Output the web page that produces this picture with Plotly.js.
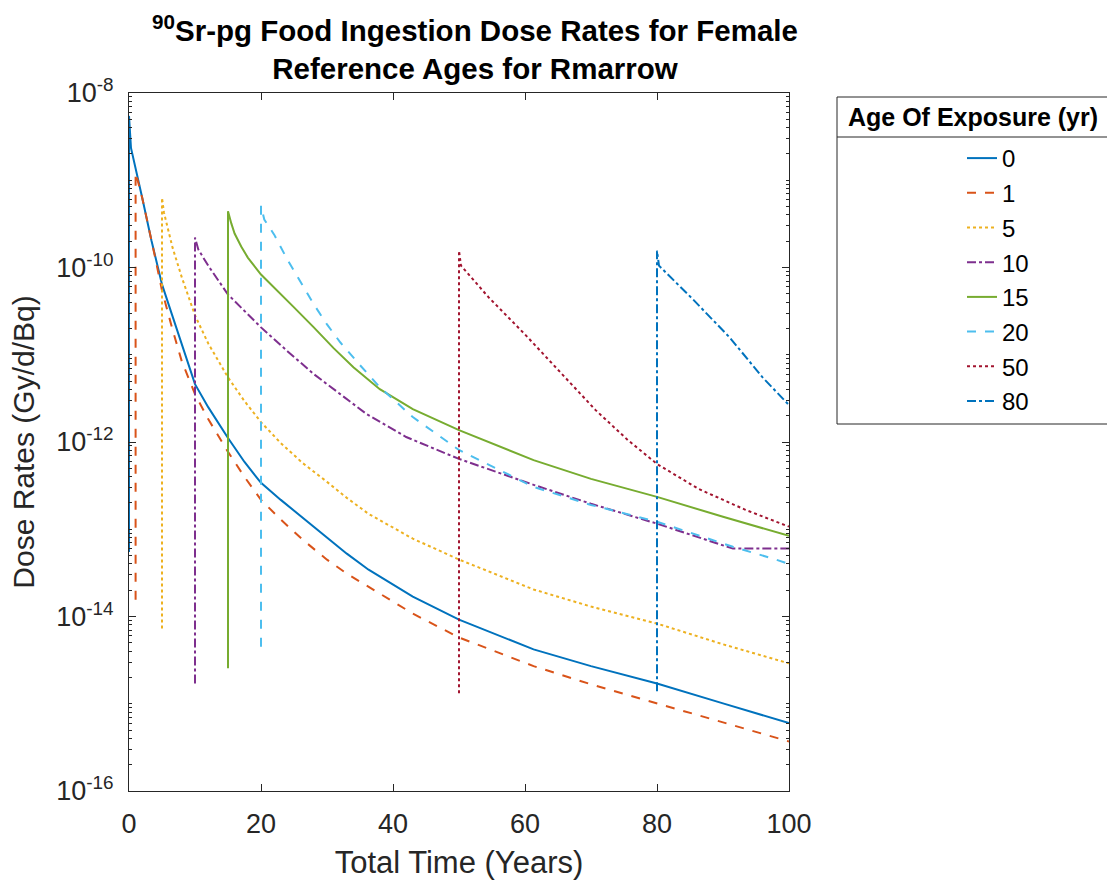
<!DOCTYPE html>
<html><head><meta charset="utf-8">
<script src="https://cdn.plot.ly/plotly-3.0.1.min.js"></script>
<style>html,body{margin:0;padding:0;background:#fff}</style>
</head><body><div id="chart" style="width:1107px;height:886px"></div>
<script>
// Age of exposure labels
const ages = ['0', '1', '5', '10', '15', '20', '50', '80'];

// Total time (years) and dose rate (Gy/d/Bq) for each age of exposure
const t_age0 = [0, 0, 0.3, 1, 2, 3.4, 5, 6.5, 8, 10, 12, 15, 17.5, 20, 23, 26.3, 30, 33, 36.3, 43, 50, 61.3, 70, 80, 90, 100];
const d_age0 = [5.5e-14, 5.46e-9, 2.35e-9, 1.39e-9, 6.3e-10, 2.04e-10, 6.4e-11, 2.9e-11, 1.35e-11, 4.6e-12, 2.51e-12, 1.11e-12, 5.9e-13, 3.4e-13, 2.17e-13, 1.35e-13, 8.0e-14, 5.25e-14, 3.44e-14, 1.69e-14, 9.2e-15, 4.2e-15, 2.7e-15, 1.71e-15, 1.01e-15, 6.0e-16];

const t_age1 = [1, 1, 1.3, 2, 3.9, 5, 6.5, 8, 10, 12, 15, 17.5, 20, 23, 26.3, 30, 33, 36.3, 43, 50, 61.3, 70, 80, 90, 100];
const d_age1 = [1.56e-14, 1.22e-9, 1.01e-9, 6.3e-10, 1.37e-10, 5.46e-11, 2.06e-11, 8.4e-12, 3.54e-12, 1.83e-12, 7.7e-13, 3.98e-13, 2.17e-13, 1.29e-13, 7.6e-14, 4.48e-14, 3.1e-14, 2.2e-14, 1.08e-14, 5.75e-15, 2.7e-15, 1.67e-15, 1.01e-15, 6.0e-16, 3.7e-16];

const t_age5 = [5, 5, 5.3, 6.6, 8, 10, 12, 15, 17.5, 20, 23, 26.3, 30, 33, 36.3, 43, 50, 61.3, 70, 80, 90, 100];
const d_age5 = [7.3e-15, 6.3e-10, 4.25e-10, 1.69e-10, 7.7e-11, 2.83e-11, 1.35e-11, 5.5e-12, 2.94e-12, 1.69e-12, 9.7e-13, 5.75e-13, 3.49e-13, 2.29e-13, 1.5e-13, 7.8e-14, 4.5e-14, 2.04e-14, 1.3e-14, 8.3e-15, 4.8e-15, 2.9e-15];

const t_age10 = [10, 10, 10.5, 12, 15, 17.5, 20, 24, 28, 32, 36, 42, 50, 61.3, 70, 80, 91.5, 100];
const d_age10 = [1.71e-15, 2.2e-10, 1.61e-10, 1.05e-10, 4.9e-11, 3.14e-11, 2.06e-11, 1.1e-11, 6.0e-12, 3.54e-12, 2.09e-12, 1.14e-12, 6.4e-13, 3.23e-13, 1.96e-13, 1.16e-13, 6.0e-14, 6.0e-14];

const t_age15 = [15, 15, 15.5, 16, 17, 18, 20, 22, 25, 28, 31, 34, 38, 43, 50, 61.3, 70, 80, 90, 100];
const d_age15 = [2.55e-15, 4.4e-10, 3.2e-10, 2.45e-10, 1.74e-10, 1.3e-10, 8.3e-11, 5.9e-11, 3.49e-11, 2.06e-11, 1.19e-11, 7.2e-12, 4.03e-12, 2.38e-12, 1.37e-12, 6.2e-13, 3.78e-13, 2.35e-13, 1.39e-13, 8.4e-14];

const t_age20 = [20, 20, 20.5, 22, 24, 26, 28, 30, 32, 35, 38, 43, 50, 61.3, 70, 80, 91.5, 97.6, 100];
const d_age20 = [4.5e-15, 5.1e-10, 3.54e-10, 2.38e-10, 1.23e-10, 6.74e-11, 3.78e-11, 2.23e-11, 1.39e-11, 7.6e-12, 4.25e-12, 1.93e-12, 8.1e-13, 3.06e-13, 1.9e-13, 1.22e-13, 6.3e-14, 4.6e-14, 4.0e-14];

const t_age50 = [50, 50, 50.3, 54.5, 60, 65.6, 70.7, 75.6, 80, 86.3, 93.4, 100];
const d_age50 = [1.32e-15, 1.56e-10, 1.05e-10, 4.54e-11, 1.71e-11, 6.0e-12, 2.32e-12, 1.05e-12, 5.6e-13, 2.9e-13, 1.67e-13, 1.07e-13];

const t_age80 = [80, 80, 80.3, 85.6, 91, 96, 100];
const d_age80 = [1.39e-15, 1.56e-10, 1.05e-10, 4.2e-11, 1.58e-11, 5.5e-12, 2.65e-12];

// Axis tick labels
const xTicks = [0, 20, 40, 60, 80, 100];
const yTickExps = [-16, -14, -12, -10, -8];

const times = [t_age0, t_age1, t_age5, t_age10, t_age15, t_age20, t_age50, t_age80];
const doses = [d_age0, d_age1, d_age5, d_age10, d_age15, d_age20, d_age50, d_age80];
const colors = ['#0072BD', '#D95319', '#EDB120', '#7E2F8E', '#77AC30', '#4DBEEE', '#A2142F', '#0072BD'];
const dashes = ['solid', 'dash', 'dot', 'dashdot', 'solid', 'dash', 'dot', 'dashdot'];

const traces = ages.map((a, i) => ({
  x: times[i], y: doses[i], type: 'scatter', mode: 'lines', name: a,
  legendgroup: 'g' + i,
  line: {color: colors[i], width: 2, dash: dashes[i]}
}));

const minorY = [];
for (let e = -16; e < -8; e++) for (let k = 1; k <= 9; k++) minorY.push(k * Math.pow(10, e));

const axisColor = '#262626';
const font = 'Liberation Sans, Arial, Helvetica, sans-serif';
const L = 129, R = 789, T = 93, B = 791;
const px2x = p => (p - L) / (R - L);
const py2y = p => (B - p) / (B - T);

const layout = {
  width: 1107, height: 886,
  paper_bgcolor: '#fff', plot_bgcolor: '#fff',
  margin: {l: L, r: 1107 - R, t: T, b: 886 - B},
  font: {family: font, color: axisColor, size: 26},
  title: {
    text: '<b><sup>90</sup>Sr-pg Food Ingestion Dose Rates for Female<br>Reference Ages for Rmarrow</b>',
    font: {family: font, size: 29.5, color: '#000'},
    x: 475 / 1107, xref: 'container', xanchor: 'center',
    y: 1 - 41 / 886, yref: 'container', yanchor: 'middle'
  },
  xaxis: {
    range: [0, 100], tickmode: 'array', tickvals: xTicks, ticktext: xTicks.map(String),
    ticks: 'inside', ticklen: 7, tickcolor: axisColor, showline: true, linecolor: axisColor,
    linewidth: 1, mirror: 'ticks', showgrid: false, zeroline: false,
    tickfont: {size: 27, color: axisColor}, ticklabelstandoff: 9,
    title: {text: 'Total Time (Years)', font: {size: 31, color: axisColor}, standoff: 12}
  },
  yaxis: {
    type: 'log', range: [-16, -8], tickmode: 'array',
    tickvals: yTickExps.map(e => Math.pow(10, e)),
    ticktext: yTickExps.map(e => '10<sup>' + e + '</sup>'),
    ticks: 'inside', ticklen: 7, tickcolor: axisColor, showline: true, linecolor: axisColor,
    linewidth: 1, mirror: 'ticks', showgrid: false, zeroline: false,
    tickfont: {size: 27, color: axisColor}, ticklabelstandoff: 9,
    minor: {tickmode: 'array', tickvals: minorY, ticks: 'inside', ticklen: 3, tickcolor: axisColor, showgrid: false},
    title: {text: 'Dose Rates (Gy/d/Bq)', font: {size: 30, color: axisColor}, standoff: 12}
  },
  showlegend: true,
  legend: {
    xref: 'container', yref: 'container',
    x: 837 / 1107, y: 1 - 136 / 886, xanchor: 'left', yanchor: 'top',
    bgcolor: 'rgba(0,0,0,0)', borderwidth: 0,
    font: {size: 24, color: '#000'},
    traceorder: 'grouped', tracegroupgap: 0.5, indentation: 125
  },
  annotations: [
    {text: '<b>Age Of Exposure (yr)</b>', xref: 'paper', yref: 'paper',
     x: px2x(973), y: py2y(117), xanchor: 'center', yanchor: 'middle', showarrow: false,
     font: {size: 25, color: '#000'}}
  ],
  shapes: [
    {type: 'rect', xref: 'paper', yref: 'paper', x0: px2x(837), x1: px2x(1112),
     y0: py2y(424), y1: py2y(97), line: {color: axisColor, width: 1}, fillcolor: 'rgba(0,0,0,0)'},
    {type: 'line', xref: 'paper', yref: 'paper', x0: px2x(837), x1: px2x(1112),
     y0: py2y(137), y1: py2y(137), line: {color: axisColor, width: 1}}
  ]
};

Plotly.newPlot('chart', traces, layout, {displayModeBar: false, staticPlot: true});
</script>
</body></html>
